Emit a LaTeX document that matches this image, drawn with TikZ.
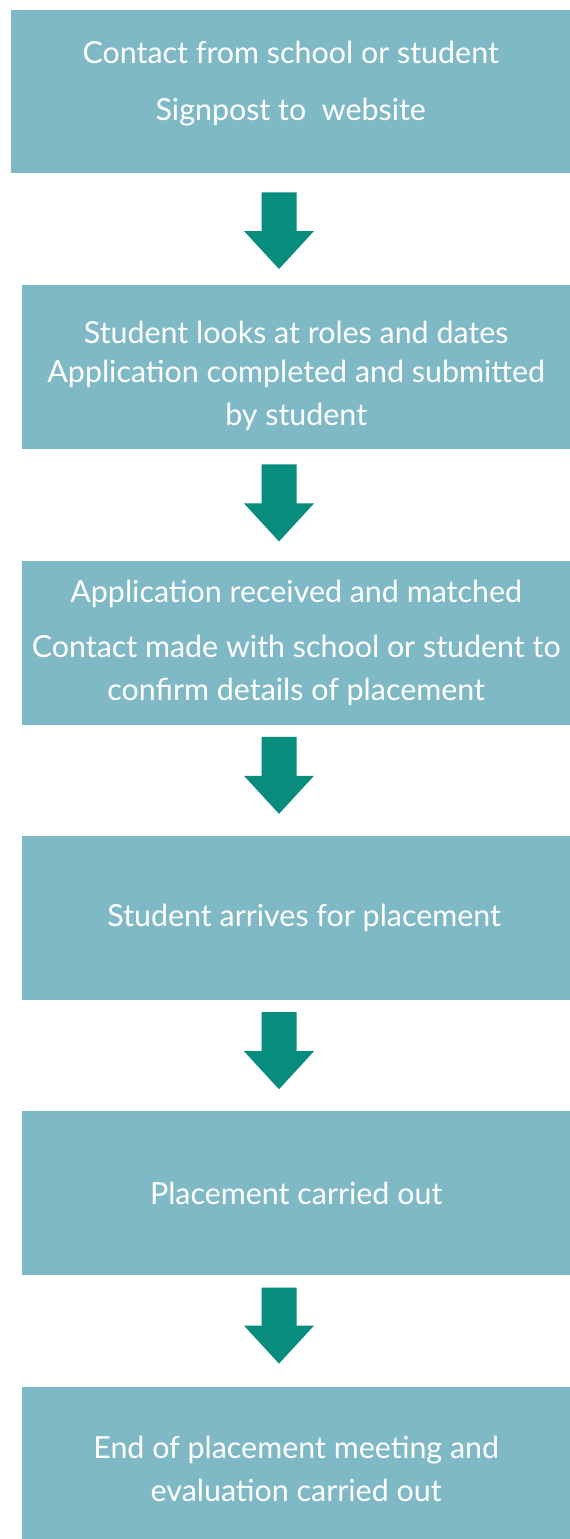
\documentclass[tikz,border=0pt]{standalone}
\usepackage{fontspec}
\setmainfont{Lato}
\usetikzlibrary{positioning, calc}
\definecolor{boxteal}{HTML}{80B9C6}
\definecolor{arrowteal}{HTML}{078C7D}
\tikzset{
  stepbox/.style={
    rectangle, fill=boxteal, text=white, minimum width=548pt, minimum height=164pt,
    inner sep=0pt, align=center, font=\fontsize{30.4}{43}\selectfont
  },
  flowarrow/.style={fill=arrowteal}
}
% fat down arrow from the bottom of one box to the top of the next
\newcommand{\blockarrow}[4]{%
  \coordinate (s) at ($(axis |- #1.south)+(0,-#3)$);
  \coordinate (t) at ($(axis |- #2.north)+(0,#4)$);
  \fill[flowarrow] ($(s)+(-17.5,0)$) -- ($(s)+(17.5,0)$) -- ($(t)+(17.5,38)$)
    -- ($(t)+(35,38)$) -- (t) -- ($(t)+(-35,38)$) -- ($(t)+(-17.5,38)$) -- cycle;
}

\begin{document}
\begin{tikzpicture}[x=1pt, y=1pt, node distance=111pt]
    \clip (0,0) rectangle (570,-1539);
    \fill[white] (0,0) rectangle (570,-1539);
    \coordinate (axis) at (279,0);
    \node[stepbox, minimum width=559pt, minimum height=163pt, anchor=north west] (b1) at (11,-10)
    {Contact from school or student\\[14pt] Signpost to\ \ website\\[-22pt]\mbox{}};
    \node[stepbox, anchor=north west] (b2) at (22,-285)
    {\mbox{}\\[-3pt] Student looks at roles and dates\hspace*{10pt}\\[-4pt] Application completed and submitted\\ by student};
    \node[stepbox, below=of b2] (b3)
    {Application received and matched\\[12pt] Contact made with school or student to\\ confirm details of placement};
    \node[stepbox, below=of b3] (b4) {\hspace*{16pt}Student arrives for placement};
    \node[stepbox, below=of b4] (b5) {Placement carried out};
    \node[stepbox, below=of b5] (b6) {End of placement meeting and\\ evaluation carried out};
    \blockarrow{b1}{b2}{19}{16}
    \blockarrow{b2}{b3}{15}{19}
    \blockarrow{b3}{b4}{12}{22}
    \blockarrow{b4}{b5}{12}{22}
    \blockarrow{b5}{b6}{12}{23}
\end{tikzpicture}
\end{document}
